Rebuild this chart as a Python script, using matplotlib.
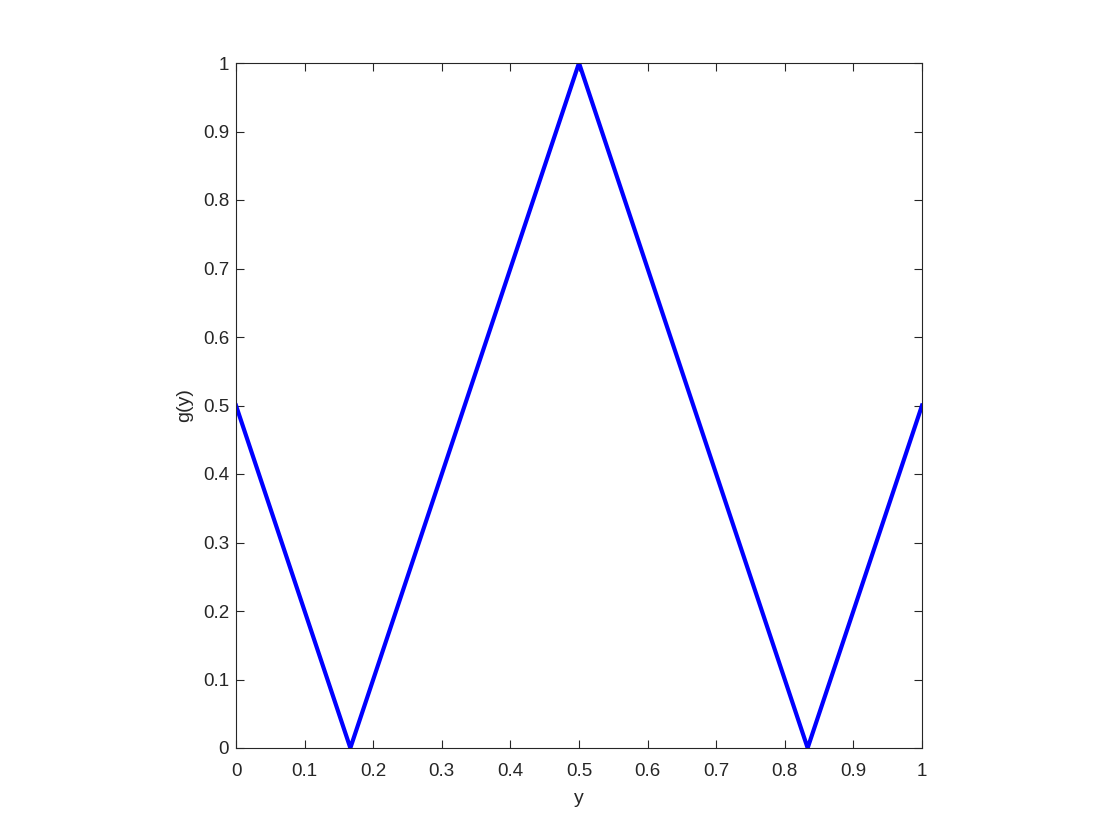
import matplotlib
matplotlib.use("Agg")
import matplotlib.pyplot as plt
import numpy as np

plt.rcParams['font.family'] = ['Liberation Sans', 'DejaVu Sans']

y_vals = [0.0, 0.1667, 0.5, 0.8333, 1.0]
g_vals = [0.5, 0.0, 1.0, 0.0, 0.5]
xticks = [0, 0.1, 0.2, 0.3, 0.4, 0.5, 0.6, 0.7, 0.8, 0.9, 1]
yticks = [0, 0.1, 0.2, 0.3, 0.4, 0.5, 0.6, 0.7, 0.8, 0.9, 1]
tick_labels = ['0', '0.1', '0.2', '0.3', '0.4', '0.5', '0.6', '0.7', '0.8', '0.9', '1']

fig = plt.figure(figsize=(11.2, 8.4), dpi=100)
ax = fig.add_axes([236/1120, 92/840, 686/1120, 685/840])
ax.plot(y_vals, g_vals, color='#0000ff', linewidth=3)
ax.set_xlim(0, 1)
ax.set_ylim(0, 1)
ax.set_xticks(xticks)
ax.set_xticklabels(tick_labels)
ax.set_yticks(yticks)
ax.set_yticklabels(tick_labels)
ax.tick_params(direction='in', top=True, right=True, length=6, width=0.8,
               labelsize=13.5, colors='#262626', labelcolor='#262626')
ax.tick_params(axis='x', pad=11)
ax.tick_params(axis='y', pad=5)
for s in ax.spines.values():
    s.set_color('#262626')
    s.set_linewidth(0.8)
ax.set_xlabel('y', fontsize=14, color='#262626', labelpad=7)
ax.set_ylabel('g(y)', fontsize=14, color='#262626', labelpad=7)
fig.savefig('out.png', dpi=100)
